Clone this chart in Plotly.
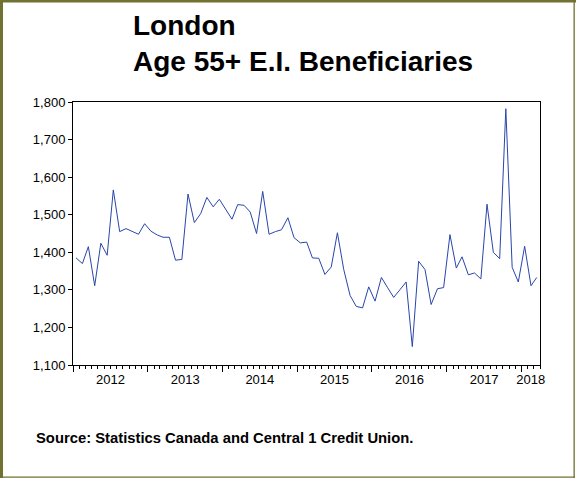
import plotly.graph_objects as go
import pandas as pd

W, H = 576, 478
L, R, T, B = 73, 36, 102, 113

# Monthly observations, Jan 2012 - Mar 2018
months = pd.date_range("2012-01-01", periods=75, freq="MS")
beneficiaries = [
    1385, 1370, 1415, 1311, 1424, 1392, 1566, 1455, 1463, 1456, 1448, 1476,
    1456, 1446, 1440, 1440, 1379, 1381, 1555, 1479, 1503, 1546, 1521, 1541,
    1514, 1488, 1527, 1525, 1507, 1450, 1562, 1448, 1455, 1460, 1492, 1439,
    1425, 1427, 1385, 1384, 1341, 1361, 1452, 1354, 1285, 1256, 1252, 1308,
    1270, 1333, 1307, 1280, 1300, 1321, 1149, 1376, 1354, 1261, 1303, 1306,
    1447, 1358, 1388, 1340, 1345, 1329, 1528, 1400, 1383, 1782, 1360, 1321,
    1416, 1311, 1333,
]
year_labels = ["2012", "2013", "2014", "2015", "2016", "2017", "2018"]
y_ticks = [1100, 1200, 1300, 1400, 1500, 1600, 1700, 1800]

# plot each month at the middle of its period
x_mid = months + pd.Timedelta(days=15)
x_start = "2012-01-01"
x_end = "2018-04-01"
year_bounds = [f"{y}-01-01" for y in year_labels]
label_pos = [f"{y}-07-02" for y in year_labels[:-1]] + ["2018-02-15"]

fig = go.Figure()
fig.add_trace(go.Scatter(
    x=x_mid, y=beneficiaries, mode="lines",
    line=dict(color="#2a45aa", width=1),
    showlegend=False, hoverinfo="x+y",
))
# invisible trace for label axis
fig.add_trace(go.Scatter(x=[x_start, x_end], y=[None, None], xaxis="x2",
                         showlegend=False, hoverinfo="skip"))

font = "Arial, 'Liberation Sans', sans-serif"
fig.update_layout(
    width=W, height=H,
    margin=dict(l=L, r=R, t=T, b=B),
    paper_bgcolor="white", plot_bgcolor="white",
    font=dict(family=font, size=13, color="black"),
    title=dict(
        text="<b>London<br>Age 55+ E.I. Beneficiaries</b>",
        x=133 / W, xref="container", xanchor="left",
        y=1 - 35 / H, yref="container", yanchor="top",
        font=dict(size=28, family=font, color="black"),
    ),
    xaxis=dict(
        type="date", range=[x_start, x_end],
        tickmode="array", tickvals=year_bounds, showticklabels=False,
        ticks="outside", ticklen=6, tickwidth=1, tickcolor="black",
        minor=dict(dtick="M1", tick0="2012-01-01", ticks="outside",
                   ticklen=3, tickcolor="black", showgrid=False),
        showline=True, linecolor="black", linewidth=1, mirror=True,
        showgrid=False, zeroline=False,
    ),
    xaxis2=dict(
        type="date", range=[x_start, x_end], overlaying="x", side="bottom",
        tickmode="array", tickvals=label_pos, ticktext=year_labels,
        ticks="", ticklen=0, showline=False, showgrid=False,
        tickfont=dict(size=13, color="black"), ticklabelstandoff=5,
    ),
    yaxis=dict(
        range=[1100, 1800], tickmode="array", tickvals=y_ticks,
        ticktext=[f"{v:,}" for v in y_ticks],
        ticks="outside", ticklen=4, tickcolor="black",
        showline=True, linecolor="black", linewidth=1, mirror=True,
        showgrid=False, zeroline=False, tickfont=dict(size=13),
    ),
    annotations=[dict(
        text="<b>Source: Statistics Canada and Central 1 Credit Union.</b>",
        xref="paper", yref="paper",
        x=-(L - 34) / (W - L - R), y=-(438 - (H - B)) / (H - T - B),
        xanchor="left", yanchor="middle", showarrow=False,
        font=dict(size=14.8, family=font, color="black"),
    )],
)

# outer olive frame (paper coordinates extended beyond plot area)
pw, ph = W - L - R, H - T - B
def px(x):
    return (x - L) / pw
def py(y):
    return (H - B - y) / ph

frame = "#717132"
shapes = [
    dict(type="rect", xref="paper", yref="paper", x0=px(0), x1=px(3), y0=py(H), y1=py(0),
         fillcolor=frame, line=dict(width=0), layer="above"),
    dict(type="rect", xref="paper", yref="paper", x0=px(0), x1=px(W), y0=py(2.5), y1=py(0),
         fillcolor=frame, line=dict(width=0), layer="above"),
    dict(type="rect", xref="paper", yref="paper", x0=px(573.5), x1=px(574.8), y0=py(H), y1=py(0),
         fillcolor=frame, line=dict(width=0), layer="above"),
    dict(type="rect", xref="paper", yref="paper", x0=px(0), x1=px(575), y0=py(477.8), y1=py(476.5),
         fillcolor=frame, line=dict(width=0), layer="above"),
]
fig.update_layout(shapes=shapes)

fig.write_html(
    "out.html",
    config={"displayModeBar": False},
    post_script="document.body.style.margin='0';document.body.style.padding='0';",
)
